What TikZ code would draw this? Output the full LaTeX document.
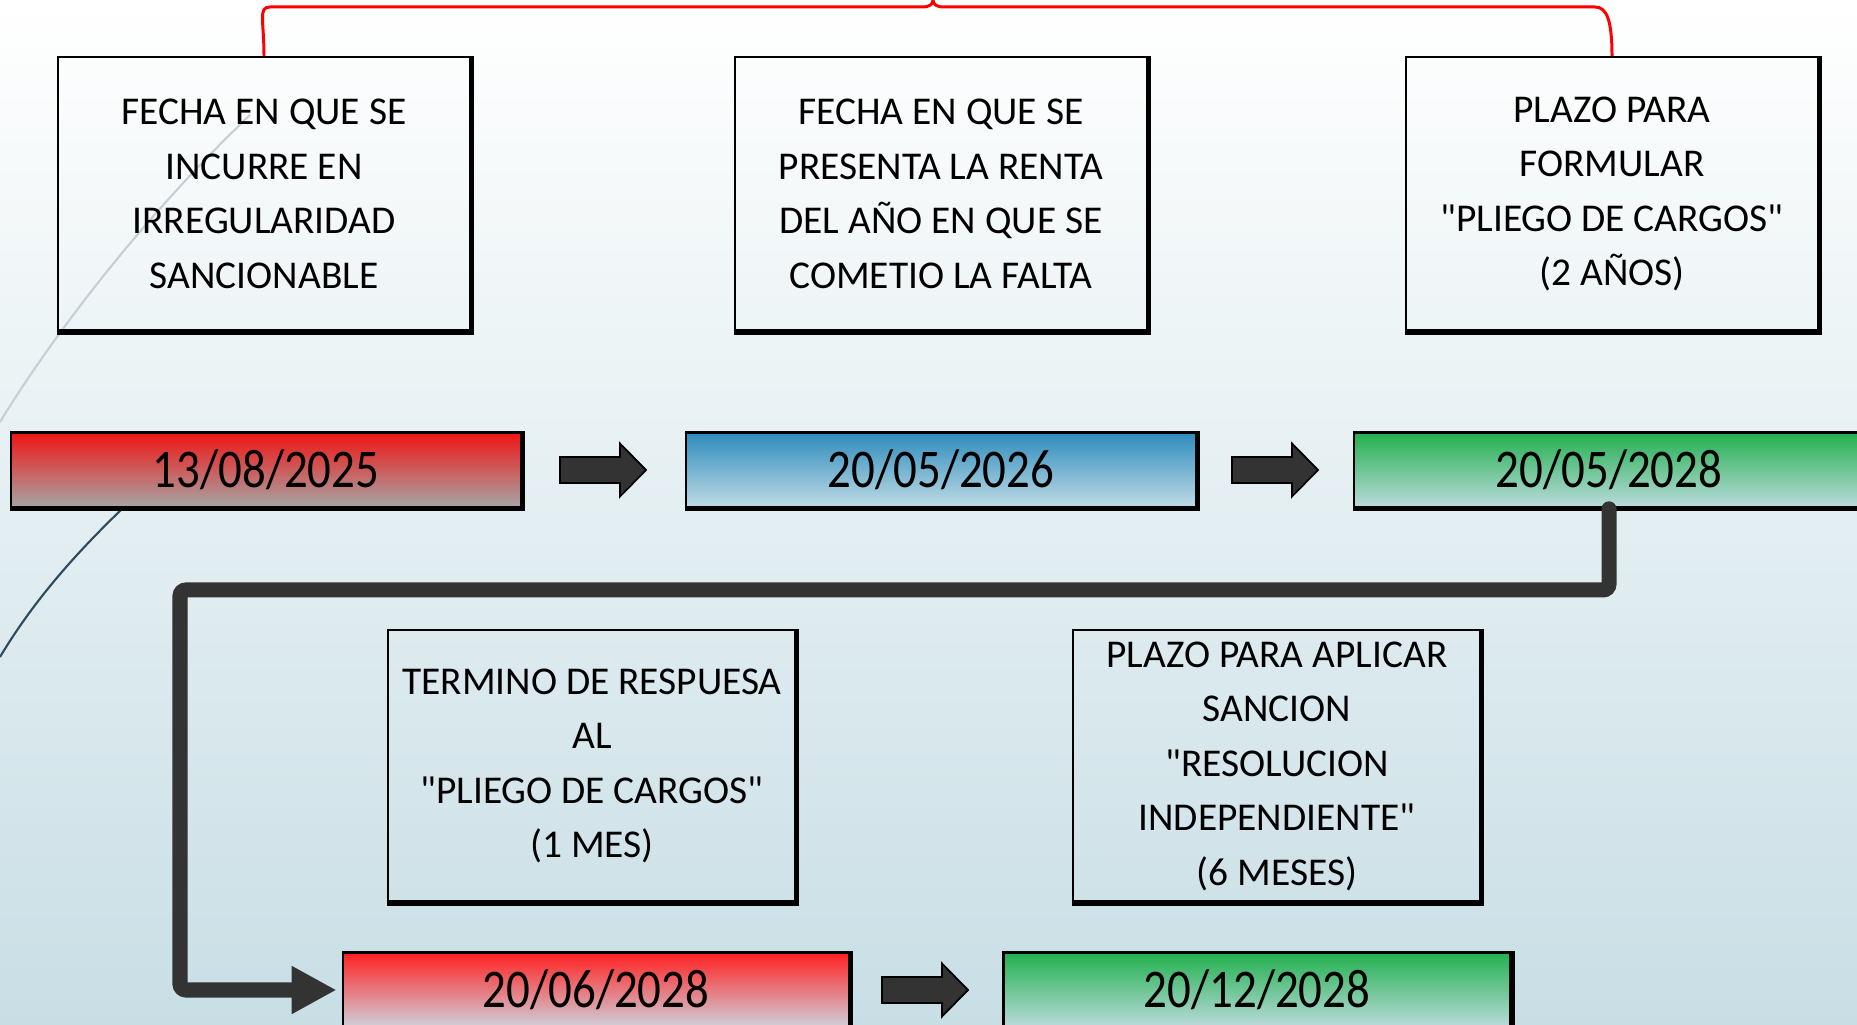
\documentclass[tikz,border=0pt]{standalone}
\usepackage{fontspec}
\setmainfont{Carlito}[Ligatures=TeXOff]
\newfontfamily\datefont{Carlito}[FakeStretch=0.86]
\usetikzlibrary{arrows.meta}

\definecolor{fondo}{RGB}{200,222,229}
\definecolor{grisoscuro}{RGB}{51,51,51}
\definecolor{rojo}{RGB}{240,20,20}
\definecolor{gris}{RGB}{166,166,166}
\definecolor{azul}{RGB}{46,139,189}
\definecolor{azulclaro}{RGB}{192,220,229}
\definecolor{verde}{RGB}{34,176,78}
\definecolor{verdeclaro}{RGB}{188,219,222}
\definecolor{rojovivo}{RGB}{255,32,32}
\definecolor{rosaclaro}{RGB}{206,210,220}
\definecolor{lineagris}{RGB}{197,207,213}
\definecolor{azuloscuro}{RGB}{45,74,94}

\begin{document}
\begin{tikzpicture}[x=0.01cm,y=-0.01cm]
    \tikzstyle{caja}=[draw=black,line width=0.6pt,minimum width=4.12cm,minimum height=2.74cm,inner sep=0pt,align=center,font=\fontsize{11.2pt}{15.5pt}\selectfont]
    \tikzstyle{fecha}=[draw=black,line width=0.75pt,minimum width=5.1cm,minimum height=0.75cm,inner sep=0pt,font=\datefont\fontsize{15.5pt}{18pt}\selectfont]
    \tikzstyle{flecha}=[draw=black,fill=grisoscuro,line width=0.5pt]
    \tikzstyle{sombra}=[line width=1.5pt]
    \tikzstyle{conector}=[draw=grisoscuro,line width=0.15cm,rounded corners=0.06cm,line cap=round,shorten >=0.05cm,-{Triangle[length=0.45cm,width=0.45cm]}]
    \tikzstyle{llave}=[draw=red,line width=0.85pt]

    % Background of the slide
    \useasboundingbox (0,0) rectangle (1857,1025);
    \shade[top color=white,bottom color=fondo] (0,0) rectangle (1857,1025);
    \clip (0,0) rectangle (1857,1025);
    \draw[lineagris,line width=0.6pt] (0,422) .. controls (50,340) and (140,220) .. (250,115);
    \draw[azuloscuro,line width=0.6pt] (124,507) .. controls (90,540) and (40,590) .. (0,657);

    % Draw the description boxes
    \node[caja] (C-1) at (264,194) {FECHA EN QUE SE\\INCURRE EN\\IRREGULARIDAD\\SANCIONABLE};
    \node[caja] (C-2) at (941,194) {FECHA EN QUE SE\\PRESENTA LA RENTA\\DEL AÑO EN QUE SE\\COMETIO LA FALTA};
    \node[caja] (C-3) at (1612,194) {PLAZO PARA\\FORMULAR\\"PLIEGO DE CARGOS"\\(2 AÑOS)};
    \node[caja,minimum width=4.07cm,minimum height=2.72cm] (C-4) at (592,766) {TERMINO DE RESPUESA\\AL\\"PLIEGO DE CARGOS"\\(1 MES)};
    \node[caja,minimum width=4.07cm,minimum height=2.72cm] (C-5) at (1277,766) {PLAZO PARA APLICAR\\SANCION\\"RESOLUCION\\INDEPENDIENTE"\\(6 MESES)};

    % Brace over the first three boxes
    \draw[llave] (C-1.north) .. controls +(0,-35) and +(-12,0) .. (270,7) -- (922,7)
        .. controls (930,7) and (933,4) .. (933,0) .. controls (933,4) and (936,7) .. (944,7)
        -- (1595,7) .. controls +(12,0) and +(0,-35) .. (C-3.north);

    % Draw the dates
    \node[fecha,top color=rojo,bottom color=gris] (F-1) at (266,470) {13/08/2025};
    \node[fecha,top color=azul,bottom color=azulclaro] (F-2) at (941,470) {20/05/2026};
    \node[fecha,top color=verde,bottom color=verdeclaro] (F-3) at (1609,470) {20/05/2028};
    \node[fecha,minimum width=5.06cm,top color=rojovivo,bottom color=rosaclaro] (F-4) at (596,990) {20/06/2028};
    \node[fecha,minimum width=5.07cm,top color=verde,bottom color=verdeclaro] (F-5) at (1257,990) {20/12/2028};

    % Thicker right and bottom edges
    \foreach \name in {C-1,C-2,C-3,C-4,C-5,F-1,F-2,F-3,F-4,F-5}
        \draw[sombra] (\name.north east) |- (\name.south west);

    % Block arrows between the dates
    \foreach \name/\x/\y in {A-1/603/470,A-2/1275/470,A-3/925/990} {
        \coordinate (\name) at (\x,\y);
        \draw[flecha] (\name) ++(-43,-13) -- ++(60,0) -- ++(0,-13.5) -- ++(26,26.5)
            -- ++(-26,26.5) -- ++(0,-13.5) -- ++(-60,0) -- cycle;
    }

    % Connect the last date of the first row with the second row
    \coordinate (codo) at (180,590);
    \draw[conector] (F-3.south) |- (codo) |- (F-4.west);
\end{tikzpicture}
\end{document}
